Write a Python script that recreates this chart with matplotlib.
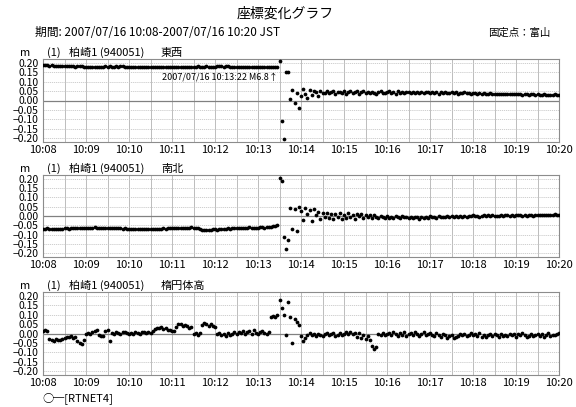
import numpy as np
import pandas as pd
import matplotlib
matplotlib.use('Agg')
import matplotlib.pyplot as plt
import matplotlib.dates as mdates

plt.rcParams['font.family'] = ['Noto Sans CJK JP', 'DejaVu Sans']

W, H = 576, 407

# 1 sample every 3 s, 10:08:00 - 10:20:00
start = '2007-07-16 10:08:00'
step = '3s'
quake_time = pd.Timestamp('2007-07-16 10:13:22')

# station displacements in mm
ew_mm = [
    187, 186, 186, 185, 186, 184, 185, 184, 183, 184,
    183, 182, 183, 181, 182, 180, 181, 182, 181, 180,
    179, 180, 179, 178, 180, 179, 178, 179, 180, 181,
    180, 181, 180, 179, 181, 180, 182, 181, 180, 179,
    180, 178, 179, 180, 178, 177, 178, 179, 178, 176,
    177, 178, 177, 176, 177, 176, 175, 176, 177, 176,
    177, 178, 177, 179, 178, 180, 179, 178, 180, 179,
    178, 179, 181, 180, 179, 180, 181, 179, 178, 179,
    180, 181, 182, 181, 180, 182, 181, 180, 179, 180,
    179, 178, 179, 178, 177, 178, 179, 178, 177, 178,
    177, 176, 177, 176, 175, 176, 175, 176, 177, 176,
    210, -110, -205, 152, 150, 10, 55, -15, 40, -42,
    25, 60, 35, 15, 55, 30, 50, 45, 25, 50,
    40, 42, 48, 38, 45, 50, 36, 44, 47, 40,
    49, 37, 45, 52, 40, 43, 48, 35, 46, 50,
    39, 44, 38, 47, 41, 36, 45, 49, 42, 38,
    46, 51, 40, 44, 37, 48, 42, 45, 39, 47,
    43, 40, 46, 38, 44, 41, 47, 39, 43, 45,
    38, 44, 40, 46, 37, 43, 41, 45, 38, 42,
    44, 39, 43, 37, 42, 40, 44, 38, 41, 36,
    40, 38, 35, 39, 36, 40, 37, 34, 38, 35,
    37, 36, 33, 37, 34, 36, 32, 35, 33, 36,
    34, 32, 35, 31, 34, 33, 30, 34, 32, 29,
    33, 31, 28, 32, 30, 27, 31, 29, 32, 28,
    30,
]
ns_mm = [
    -68, -70, -67, -71, -69, -72, -70, -68, -71, -69,
    -67, -66, -68, -65, -66, -64, -66, -65, -63, -65,
    -64, -62, -64, -63, -61, -63, -62, -64, -63, -62,
    -64, -65, -63, -66, -65, -67, -66, -68, -67, -69,
    -68, -70, -69, -71, -70, -72, -71, -70, -72, -71,
    -70, -69, -71, -70, -68, -69, -67, -68, -66, -67,
    -66, -65, -67, -64, -65, -63, -64, -62, -63, -61,
    -63, -62, -64, -70, -74, -76, -75, -73, -74, -72,
    -71, -73, -70, -69, -70, -68, -67, -69, -66, -65,
    -64, -63, -65, -62, -64, -63, -61, -63, -64, -62,
    -63, -61, -60, -62, -59, -57, -58, -55, -52, -50,
    205, 188, -112, -178, -130, 45, -72, 38, -82, 50,
    25, -20, 42, 10, 30, -25, 35, 5, 22, -15,
    15, -5, 18, -12, 10, -18, 12, -3, 15, -14,
    5, -10, 14, -6, 8, -15, 10, -2, 12, -11,
    4, -8, 6, -12, 3, -5, -10, 2, -7, -12,
    0, -9, -3, -11, 1, -6, -13, -2, -8, -4,
    -10, -5, -12, -3, -8, -14, -6, -10, -4, -9,
    -2, -7, -3, -9, -1, -6, -4, -8, -2, -5,
    0, -4, -1, -6, 2, -3, 0, -5, 1, -2,
    3, -1, 2, -3, 1, 4, -2, 3, 0, 5,
    1, 2, -1, 4, 0, 3, 6, 1, 4, 2,
    5, 3, 6, 1, 5, 2, 7, 4, 2, 6,
    3, 5, 8, 4, 6, 3, 7, 5, 9, 4,
    6,
]
up_mm = [
    15, 20, 12, -30, -35, -38, -28, -33, -36, -30,
    -25, -18, -20, -15, -22, -18, -40, -52, -58, -35,
    -2, 3, -5, 8, 12, 20, -10, -14, -12, 15,
    20, -38, 5, 0, 8, 3, -2, 6, 10, 2,
    0, 5, -3, 8, 2, -5, 6, 10, 3, 8,
    4, 12, 25, 30, 28, 33, 24, 30, 20, 18,
    12, 15, 35, 48, 52, 40, 46, 38, 30, 34,
    -2, 5, -6, 2, 45, 55, 50, 42, 48, 40,
    35, -5, 2, -8, -3, -15, 5, -10, 0, 8,
    -5, 10, 2, 15, -3, 8, 12, 0, 18, 5,
    -2, 10, 15, 3, -5, 8, 85, 95, 88, 100,
    178, 135, 98, -10, 165, 90, -48, 75, 62, 45,
    -12, -40, -22, -8, 2, -10, -3, -15, 0, -8,
    -12, -2, 5, -9, -4, 3, -12, -6, 1, -10,
    -3, 6, 0, 8, -2, 4, -18, 3, -22, -8,
    -30, -15, -35, -68, -80, -72, -4, -10, 2, -6,
    0, 5, -8, 10, -3, -12, 4, -6, 8, -15,
    -2, 3, -9, 6, -4, -14, 0, 7, -10, -5,
    4, -6, -12, 2, -8, -18, -4, -10, -22, -14,
    -6, -25, -20, -12, -3, -9, 0, -15, -6, 2,
    -10, -4, -12, 3, -16, -7, -20, -10, -2, -13,
    -5, -8, -18, -3, -11, -6, -14, 0, -9, -4,
    -16, -2, -10, 5, -7, -20, -12, -3, -15, -6,
    -1, -11, -4, -18, -8, 2, -13, -6, -10, 0,
    3,
]

components = ['東西', '南北', '楕円体高']
series = [ew_mm, ns_mm, up_mm]
y_ticks = [0.20, 0.15, 0.10, 0.05, 0.00, -0.05, -0.10, -0.15, -0.20]
y_ticklabels = ['0.20', '0.15', '0.10', '0.05', '0.00',
                '−0.05', '−0.10', '−0.15', '−0.20']
x_ticklabels = ['10:08', '10:09', '10:10', '10:11', '10:12', '10:13', '10:14',
                '10:15', '10:16', '10:17', '10:18', '10:19', '10:20']

times = pd.date_range(start, periods=len(ew_mm), freq=step).to_numpy()
major = pd.date_range(start, periods=len(x_ticklabels), freq='1min').to_numpy()
minor = pd.date_range(start, periods=2 * len(x_ticklabels) - 1, freq='30s').to_numpy()


def fx(x):
    return x / W


def fy(y):
    return 1 - y / H


fig = plt.figure(figsize=(W / 100, H / 100), dpi=100)

# panel boxes in pixels: (top, bottom)
boxes = [(59, 142), (175, 257), (292, 375)]
left_px, right_px = 43, 559

axes = []
for (top, bot), comp, vals in zip(boxes, components, series):
    ax = fig.add_axes([fx(left_px), fy(bot), fx(right_px - left_px), (bot - top) / H])
    ax.plot(times, np.array(vals) / 1000.0, 'o', ms=2.7, mew=0, color='black',
            zorder=3)
    ax.set_xlim(times[0], times[-1])
    ax.set_ylim(-0.22, 0.22)
    ax.set_xticks(major)
    ax.set_xticklabels(x_ticklabels, fontsize=8)
    ax.set_xticks(minor, minor=True)
    ax.set_yticks(y_ticks)
    ax.set_yticklabels(y_ticklabels, fontsize=7.5)
    ax.tick_params(which='both', length=0, pad=2)
    ax.tick_params(axis='y', pad=3)
    ax.grid(which='both', axis='x', color='#bcbcbc', lw=0.7)
    ax.grid(which='major', axis='y', color='#c8c8c8', lw=0.6, ls=(0, (1.5, 1)))
    ax.axhline(0, color='#808080', lw=0.9, zorder=2)
    for s in ax.spines.values():
        s.set_color('#8c8c8c')
        s.set_linewidth(0.8)

    # panel caption
    base = fy(top - 3)
    fig.text(fx(25), base, 'm', fontsize=8, ha='center', va='baseline')
    fig.text(fx(47), base, '(1)', fontsize=8, va='baseline')
    fig.text(fx(69), base, '柏崎1 (940051)', fontsize=8, va='baseline')
    fig.text(fx(161), base, comp, fontsize=8, va='baseline')
    axes.append(ax)

# earthquake marker in the first panel
axes[0].annotate('2007/07/16 10:13:22 M6.8↑',
                 xy=(mdates.date2num(quake_time.to_pydatetime()), 0.125),
                 xytext=(3, 0), textcoords='offset points',
                 ha='right', va='center', fontsize=6.5)

fig.text(fx(285), fy(14), '座標変化グラフ', fontsize=10, ha='center', va='center')
fig.text(fx(35), fy(33), '期間: 2007/07/16 10:08-2007/07/16 10:20 JST',
         fontsize=8.5, va='center')
fig.text(fx(550), fy(33), '固定点：富山', fontsize=7.5, ha='right', va='center')
fig.text(fx(42), fy(398), '○─[RTNET4]', fontsize=8, va='center')

fig.savefig('out.png', dpi=100)
